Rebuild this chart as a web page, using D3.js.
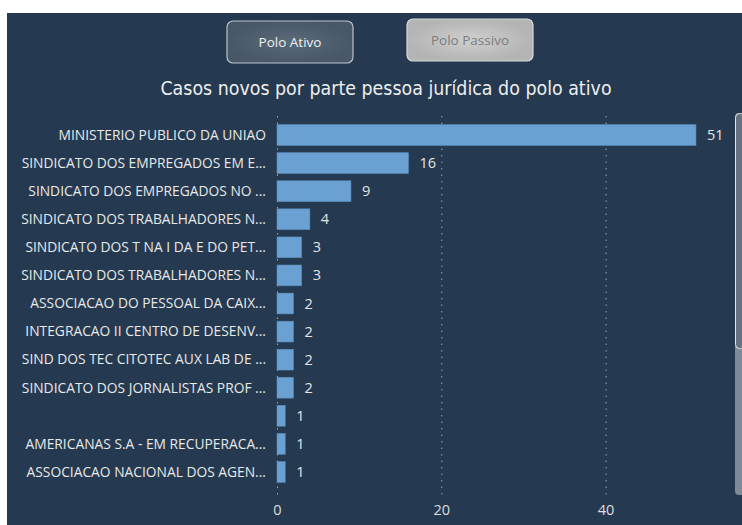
<!DOCTYPE html>
<html>
<head>
<meta charset="utf-8">
<script src="https://cdn.jsdelivr.net/npm/d3@7"></script>
<style>
    body { margin: 0; background: #ffffff; }
    svg { display: block; }
</style>
</head>
<body>
<div id="chart"></div>
<script>
// data
var categories = [
    "MINISTERIO PUBLICO DA UNIAO",
    "SINDICATO DOS EMPREGADOS EM E...",
    "SINDICATO DOS EMPREGADOS NO ...",
    "SINDICATO DOS TRABALHADORES N...",
    "SINDICATO DOS T NA I DA E DO PET...",
    "SINDICATO DOS TRABALHADORES N...",
    "ASSOCIACAO DO PESSOAL DA CAIX...",
    "INTEGRACAO II CENTRO DE DESENV...",
    "SIND DOS TEC CITOTEC AUX LAB DE ...",
    "SINDICATO DOS JORNALISTAS PROF ...",
    "",
    "AMERICANAS S.A - EM RECUPERACA...",
    "ASSOCIACAO NACIONAL DOS AGEN..."
];
var values = [51, 16, 9, 4, 3, 3, 2, 2, 2, 2, 1, 1, 1];
var xTicks = [0, 20, 40];
var buttons = ["Polo Ativo", "Polo Passivo"];
var title = "Casos novos por parte pessoa jurídica do polo ativo";

var width = 742, height = 525;
var bg = "#253a50";

var svg = d3.select("#chart")
    .append("svg")
    .attr("width", width)
    .attr("height", height);

var defs = svg.append("defs");
var g1 = defs.append("radialGradient").attr("id", "btnDark");
g1.append("stop").attr("offset", "0%").attr("stop-color", "#5a6a7b");
g1.append("stop").attr("offset", "100%").attr("stop-color", "#485869");
var g2 = defs.append("radialGradient").attr("id", "btnLight");
g2.append("stop").attr("offset", "0%").attr("stop-color", "#cfcfcf");
g2.append("stop").attr("offset", "100%").attr("stop-color", "#b4b4b4");

// panel
svg.append("rect")
    .attr("x", 7)
    .attr("y", 13)
    .attr("width", width - 7)
    .attr("height", height - 13)
    .attr("fill", bg);

// toggle buttons
var btn = svg.selectAll(".btn")
    .data(buttons)
    .enter()
    .append("g")
    .attr("class", "btn")
    .attr("transform", (d, i) => "translate(" + (i == 0 ? 227 : 407) + "," + (i == 0 ? 21 : 19) + ")");

btn.append("rect")
    .attr("width", 126)
    .attr("height", 42)
    .attr("rx", 6)
    .attr("fill", (d, i) => i == 0 ? "url(#btnDark)" : "url(#btnLight)")
    .attr("stroke", (d, i) => i == 0 ? "#b9c1c9" : "#d8d8d8")
    .attr("stroke-width", 1.2);

btn.append("text")
    .attr("x", 63)
    .attr("y", 26)
    .attr("text-anchor", "middle")
    .style("font-family", "'Open Sans', sans-serif")
    .style("font-size", "13.5px")
    .attr("fill", (d, i) => i == 0 ? "#f0f0f0" : "#7c7c7c")
    .text(d => d);

// title
svg.append("text")
    .attr("x", 386)
    .attr("y", 95)
    .attr("text-anchor", "middle")
    .style("font-family", "'DejaVu Sans Condensed', 'DejaVu Sans', sans-serif")
    .style("font-size", "19.4px")
    .attr("fill", "#eeeeee")
    .text(title);

// scales
var x = d3.scaleLinear()
    .domain([0, 51])
    .range([277, 277 + 51 * 8.215]);

var y = d3.scaleBand()
    .domain(d3.range(categories.length))
    .range([121, 486])
    .paddingInner(0.26)
    .paddingOuter(0.13);

// dotted gridlines
svg.selectAll(".grid")
    .data(xTicks)
    .enter()
    .append("line")
    .attr("x1", d => x(d) + 0.5)
    .attr("x2", d => x(d) + 0.5)
    .attr("y1", 116)
    .attr("y2", 497)
    .attr("stroke", "#9aa7b6")
    .attr("stroke-width", 1)
    .attr("stroke-dasharray", "1.5,5");

// x axis labels
svg.append("g")
    .attr("transform", "translate(0,497)")
    .call(d3.axisBottom(x).tickValues(xTicks).tickSize(0).tickPadding(8))
    .call(g => g.select(".domain").remove())
    .selectAll("text")
    .style("font-family", "'Open Sans', sans-serif")
    .style("font-size", "14.5px")
    .attr("fill", "#dddddd");

// category labels
svg.selectAll(".cat")
    .data(categories)
    .enter()
    .append("text")
    .attr("x", 266)
    .attr("y", (d, i) => y(i) + y.bandwidth() / 2)
    .attr("dy", "0.35em")
    .attr("text-anchor", "end")
    .style("font-family", "'Open Sans', sans-serif")
    .style("font-size", "13.8px")
    .attr("fill", "#e8e8e8")
    .text(d => d);

// bars
svg.selectAll(".bar")
    .data(values)
    .enter()
    .append("rect")
    .attr("x", x(0))
    .attr("y", (d, i) => y(i))
    .attr("width", d => x(d) - x(0))
    .attr("height", y.bandwidth())
    .attr("fill", "#6ba1d2")
    .attr("stroke", "#5a8dbd")
    .attr("stroke-width", 0.6);

// value labels
svg.selectAll(".val")
    .data(values)
    .enter()
    .append("text")
    .attr("x", d => x(d) + 11)
    .attr("y", (d, i) => y(i) + y.bandwidth() / 2)
    .attr("dy", "0.35em")
    .style("font-family", "'Open Sans', sans-serif")
    .style("font-size", "14.5px")
    .attr("fill", "#e4e4e4")
    .text(d => d);

// scrollbar
svg.append("rect")
    .attr("x", 735)
    .attr("y", 113)
    .attr("width", 9)
    .attr("height", 382)
    .attr("rx", 4)
    .attr("fill", "#7d8a98");
svg.append("rect")
    .attr("x", 735.5)
    .attr("y", 113.5)
    .attr("width", 9)
    .attr("height", 235)
    .attr("rx", 4)
    .attr("fill", "#66727f")
    .attr("stroke", "#e6e6e6")
    .attr("stroke-width", 1);
</script>
</body>
</html>
